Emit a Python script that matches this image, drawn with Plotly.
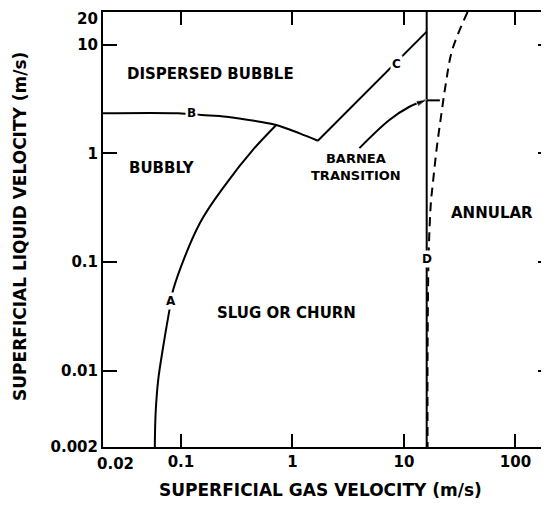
import numpy as np
import plotly.graph_objects as go

# ---- data ----
b_x = [0.02, 0.094, 0.153, 0.256, 0.508, 0.716, 1.16, 1.69]
b_y = [2.34, 2.34, 2.26, 2.18, 1.96, 1.83, 1.53, 1.31]

c_x = [1.69, 16.0]
c_y = [1.31, 13.2]

a_x = [0.0583, 0.0593, 0.0625, 0.0693, 0.0784, 0.0851, 0.1476, 0.256, 0.442, 0.716]
a_y = [0.002, 0.00411, 0.00826, 0.0167, 0.0351, 0.0556, 0.228, 0.532, 1.08, 1.83]

barnea_x = [3.99, 7.4, 11.2, 16.0]
barnea_y = [1.12, 2.03, 2.69, 3.12]
barnea_bar_x = [16.0, 21.0]
barnea_bar_y = [3.08, 3.08]

d_x = [16.0, 16.0]
d_y = [0.002, 20.0]

dash_x = [37.2, 27.1, 23.8, 21.5, 19.6, 17.9, 17.5, 16.7, 16.3, 16.3]
dash_y = [20.0, 8.95, 4.45, 2.18, 1.08, 0.46, 0.37, 0.13, 0.0156, 0.002]

x_tickvals = [0.1, 1, 10, 100]
x_ticktext = ["0.1", "1", "10", "100"]
y_tickvals = [0.002, 0.01, 0.1, 1, 10]
y_ticktext = ["0.002", "0.01", "0.1", "1", "10"]
y_top_label = "20"
x_left_label = "0.02"
y_right_ticks = [0.01, 0.1, 1, 10]

regions = ["DISPERSED BUBBLE", "BUBBLY", "BARNEA<br>TRANSITION", "ANNULAR", "SLUG OR CHURN"]
region_x = [0.185, 0.0675, 3.75, 61.8, 0.887]
region_y = [5.4, 0.736, 0.75, 0.284, 0.0341]
region_size = [15, 15, 13, 15, 15]

curve_labels = ["A", "B", "C", "D"]
curve_label_x = [0.081, 0.124, 8.5, 16.0]
curve_label_y = [0.044, 2.34, 6.6, 0.107]

FONT = "DejaVu Sans"
LC = "black"

fig = go.Figure()
line_kw = dict(color=LC, width=2)
fig.add_trace(go.Scatter(x=b_x, y=b_y, mode="lines", line=dict(shape="spline", **line_kw)))
fig.add_trace(go.Scatter(x=c_x, y=c_y, mode="lines", line=line_kw))
fig.add_trace(go.Scatter(x=a_x, y=a_y, mode="lines", line=dict(shape="spline", **line_kw)))
fig.add_trace(go.Scatter(x=d_x, y=d_y, mode="lines", line=line_kw))
fig.add_trace(go.Scatter(x=dash_x, y=dash_y, mode="lines",
                         line=dict(color=LC, width=2, dash="9px,6px", shape="spline")))
fig.add_trace(go.Scatter(x=barnea_x, y=barnea_y, mode="lines+markers",
                         line=dict(shape="spline", **line_kw),
                         marker=dict(symbol="arrow", angleref="previous", color=LC,
                                     size=[0] * (len(barnea_x) - 1) + [11])))
fig.add_trace(go.Scatter(x=barnea_bar_x, y=barnea_bar_y, mode="lines", line=dict(color=LC, width=2)))
# invisible trace to carry the right-side tick axis
fig.add_trace(go.Scatter(x=[1], y=[1], yaxis="y2", mode="markers",
                         marker=dict(size=0, opacity=0), hoverinfo="skip"))

for t, x, y, s in zip(regions, region_x, region_y, region_size):
    fig.add_annotation(x=np.log10(x), y=np.log10(y), text=t, showarrow=False,
                       font=dict(family=FONT, size=s, color=LC, weight="bold"), align="center")

for t, x, y in zip(curve_labels, curve_label_x, curve_label_y):
    fig.add_annotation(x=np.log10(x), y=np.log10(y), text=t, showarrow=False,
                       font=dict(family=FONT, size=12, color=LC, weight="bold"), bgcolor="white",
                       borderpad=1)

TICKFONT = dict(family=FONT, size=15, color=LC, weight="bold")

# corner tick label 0.02 (offset to the right of the axis corner)
fig.add_annotation(x=0, y=0, xref="paper", yref="paper", text=x_left_label,
                   showarrow=False, xanchor="left", yanchor="top", xshift=-8, yshift=-6,
                   font=TICKFONT)
# corner tick label 20 at the top of the y axis
fig.add_annotation(x=0, y=1, xref="paper", yref="paper", text=y_top_label,
                   showarrow=False, xanchor="right", yanchor="top", xshift=-3, yshift=4,
                   font=TICKFONT)

# axis titles
fig.add_annotation(x=0.487, y=-0.099, xref="paper", yref="paper", yanchor="middle",
                   text="SUPERFICIAL GAS VELOCITY (m/s)", showarrow=False,
                   font=dict(family=FONT, size=17, color=LC, weight="bold"))
fig.add_annotation(x=-0.186, y=0.506, xref="paper", yref="paper", xanchor="center",
                   textangle=-90, text="SUPERFICIAL LIQUID VELOCITY (m/s)", showarrow=False,
                   font=dict(family=FONT, size=17, color=LC, weight="bold"))

fig.update_layout(
    width=541, height=498,
    margin=dict(l=95, r=0, t=4, b=59),
    paper_bgcolor="white", plot_bgcolor="white",
    showlegend=False,
    xaxis=dict(type="log", range=[np.log10(0.02), np.log10(200)],
               tickvals=x_tickvals, ticktext=x_ticktext,
               ticks="inside", ticklen=13, tickwidth=2, tickcolor=LC,
               showline=True, linecolor=LC, linewidth=2, mirror="ticks",
               showgrid=False, zeroline=False, tickfont=TICKFONT),
    yaxis=dict(type="log", range=[np.log10(0.002), np.log10(20)],
               tickvals=y_tickvals, ticktext=y_ticktext,
               ticks="inside", ticklen=14, tickwidth=2, tickcolor=LC,
               showline=True, linecolor=LC, linewidth=2,
               showgrid=False, zeroline=False, tickfont=TICKFONT),
    yaxis2=dict(type="log", range=[np.log10(0.002), np.log10(20)], overlaying="y",
                side="right", anchor="x", tickvals=y_right_ticks,
                ticks="inside", ticklen=11, tickwidth=2, tickcolor=LC,
                showticklabels=False, showline=False, showgrid=False, zeroline=False),
)

fig.write_html("out.html")
